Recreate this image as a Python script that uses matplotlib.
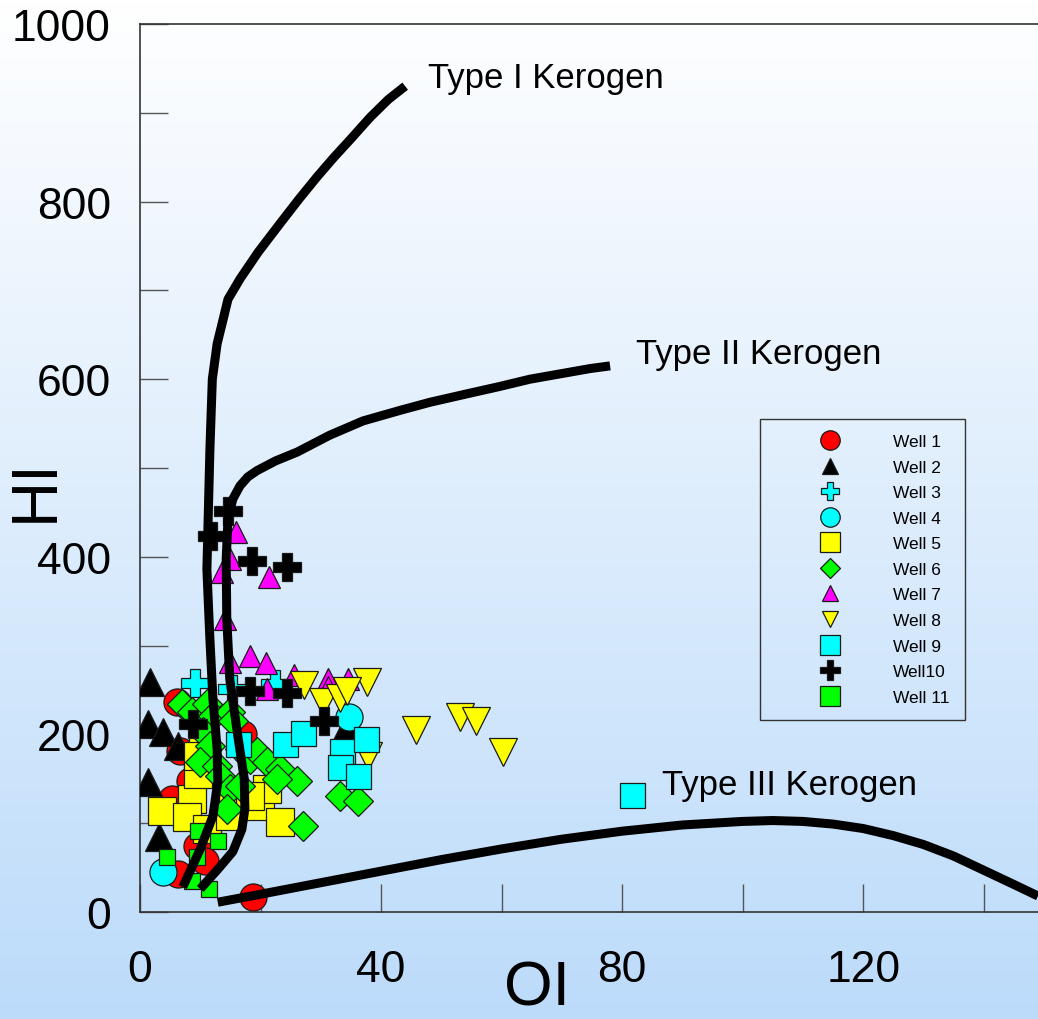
import numpy as np
import matplotlib
matplotlib.use('Agg')
import matplotlib.pyplot as plt
from matplotlib.lines import Line2D

plt.rcParams['font.family'] = ['Liberation Sans', 'DejaVu Sans']

# kerogen evolution curves (OI, HI)
type1_oi = [7.1, 10.0, 12.1, 12.9, 12.8, 12.1, 11.6, 11.1, 11.6, 12.0, 12.8, 13.6, 14.6, 16.6, 19.6,
            23.2, 26.4, 29.4, 32.2, 34.9, 38.2, 41.2, 44.0]
type1_hi = [28, 71, 108, 146, 183, 240, 307, 386, 521, 600, 640, 662, 690, 713, 743,
            775, 803, 828, 850, 870, 895, 915, 930]
type2_oi = [10.0, 12.9, 15.4, 16.9, 17.4, 17.3, 16.3, 14.9, 14.4, 14.3, 14.6, 15.4, 16.6, 17.9, 19.4,
            22.5, 26.1, 31.5, 37.0, 43.2, 48.1, 53.9, 59.8, 64.7, 69.7, 74.7, 78.0]
type2_hi = [26, 48, 68, 93, 116, 150, 195, 262, 330, 397, 443, 465, 480, 490, 497,
            508, 518, 537, 553, 565, 574, 583, 592, 600, 606, 612, 615]
type3_oi = [12.9, 20, 30, 40, 50, 60, 70, 80, 90, 100, 105, 110, 115, 120, 125, 130, 135, 140, 145, 149]
type3_hi = [11, 20, 33, 46, 59, 71, 82, 91, 98, 102, 103, 102, 99, 94, 86, 76, 63, 47, 31, 18]

curve_labels = ['Type I Kerogen', 'Type II Kerogen', 'Type III Kerogen']
curve_label_oi = [47.8, 82.3, 86.6]
curve_label_hi = [940, 629, 144]

# samples per well
well1_oi = [6.1, 6.6, 8.3, 5.3, 9.5, 10.8, 6.3, 18.8, 17.1]
well1_hi = [236, 181, 148, 127, 74, 57, 43, 17, 200]
well2_oi = [1.7, 1.3, 3.8, 6.3, 1.3, 3.2, 34.4]
well2_hi = [259, 212, 203, 187, 146, 84, 209]
well3_oi = [9.1, 15.3, 22.4]
well3_hi = [258, 251, 257]
well4_oi = [3.8, 34.7]
well4_hi = [45, 220]
well5_oi = [3.7, 8.6, 7.8, 10.5, 11.1, 14.9, 15.4, 19.9, 21.1, 23.2, 9.6, 18.3, 9.6]
well5_hi = [114, 127, 107, 184, 93, 108, 131, 119, 139, 101, 155, 131, 176]
well6_oi = [7.0, 8.6, 11.1, 12.1, 14.9, 15.4, 10.5, 11.6, 10.0, 12.8, 16.6, 18.3, 19.4, 21.1,
            23.2, 26.1, 13.3, 14.9, 16.6, 14.4, 27.1, 33.2, 36.2, 22.7]
well6_hi = [234, 225, 234, 221, 225, 215, 203, 187, 169, 164, 184, 172, 180, 169,
            161, 148, 153, 139, 142, 116, 97, 131, 125, 150]
well7_oi = [15.9, 14.9, 13.6, 21.4, 14.1, 18.3, 20.9, 14.9, 25.6, 31.2, 31.2, 34.5, 21.1]
well7_hi = [428, 398, 383, 377, 330, 288, 280, 282, 267, 262, 253, 262, 251]
well8_oi = [27.2, 37.7, 30.4, 33.2, 34.4, 37.8, 45.8, 53.1, 55.8, 60.2]
well8_hi = [256, 259, 236, 241, 249, 176, 205, 220, 215, 180]
well9_oi = [16.3, 24.1, 27.1, 33.5, 33.2, 36.2, 37.5, 81.7]
well9_hi = [189, 189, 202, 181, 163, 153, 195, 132]
well10_oi = [14.6, 12.0, 18.6, 24.4, 8.8, 18.3, 24.4, 30.5]
well10_hi = [452, 423, 395, 388, 212, 249, 247, 215]
well11_oi = [9.6, 12.9, 4.5, 9.5, 8.6, 11.5]
well11_hi = [91, 80, 62, 62, 35, 26]

well_names = ['Well 1', 'Well 2', 'Well 3', 'Well 4', 'Well 5', 'Well 6',
              'Well 7', 'Well 8', 'Well 9', 'Well10', 'Well 11']
well_oi = [well1_oi, well2_oi, well3_oi, well4_oi, well5_oi, well6_oi,
           well7_oi, well8_oi, well9_oi, well10_oi, well11_oi]
well_hi = [well1_hi, well2_hi, well3_hi, well4_hi, well5_hi, well6_hi,
           well7_hi, well8_hi, well9_hi, well10_hi, well11_hi]
markers = ['o', '^', 'P', 'o', 's', 'D', '^', 'v', 's', 'P', 's']
colors = ['#ff0000', '#000000', '#00ffff', '#00ffff', '#ffff00', '#00ff00',
          '#ff00ff', '#ffff00', '#00ffff', '#000000', '#00ff00']
sizes = [19.5, 20, 20, 19.5, 20, 15.5, 16.5, 20, 18, 20, 11.5]
leg_sizes = [14, 12, 13, 14, 14, 10, 12, 12, 14, 14, 14]

fig = plt.figure(figsize=(10.38, 10.20), dpi=100)

# background gradient, white at the top to light blue at the bottom
bg = fig.add_axes([0, 0, 1, 1], zorder=-1)
top = np.array([1.0, 1.0, 1.0])
bot = np.array([188, 219, 250]) / 255
t = np.linspace(0, 1, 256)[:, None]
grad = (top * (1 - t) + bot * t)[:, None, :]
bg.imshow(grad, aspect='auto', extent=[0, 1, 0, 1])
bg.axis('off')

ax = fig.add_axes([140 / 1038, 107 / 1020, 898 / 1038, 888 / 1020])
ax.set_facecolor('none')

for oi, hi, m, c, s in zip(well_oi, well_hi, markers, colors, sizes):
    ax.plot(oi, hi, ls='none', marker=m, ms=s, mfc=c, mec='#1a1a1a', mew=0.9, zorder=3)

for oi, hi in [(type1_oi, type1_hi), (type2_oi, type2_hi), (type3_oi, type3_hi)]:
    ax.plot(oi, hi, color='black', lw=6.5, solid_capstyle='butt', solid_joinstyle='round', zorder=4)

for lab, x, y in zip(curve_labels, curve_label_oi, curve_label_hi):
    ax.text(x, y, lab, fontsize=25, ha='left', va='center')

ax.set_xlim(0, 149)
ax.set_ylim(0, 1000)
ax.set_xticks([0, 40, 80, 120])
ax.set_xticks([20, 60, 100, 140], minor=True)
ax.set_yticks([0, 200, 400, 600, 800, 1000])
ax.set_yticks([100, 300, 500, 700, 900], minor=True)
ax.tick_params(which='both', direction='in', length=20, width=1, color='#555555')
ax.tick_params(axis='x', which='major', labelsize=32, pad=27)
ax.tick_params(axis='y', which='major', labelsize=32, pad=21)
for sp in ['left', 'top', 'bottom']:
    ax.spines[sp].set_color('#333333')
    ax.spines[sp].set_linewidth(1.2)
ax.spines['right'].set_visible(False)

ax.set_xlabel('OI', fontsize=45, va='center')
ax.set_ylabel('HI', fontsize=46, va='center')
ax.xaxis.set_label_coords(0.442, -0.086)
ax.yaxis.set_label_coords(-0.116, 0.476)

handles = [Line2D([], [], ls='none', marker=m, ms=s, mfc=c, mec='#1a1a1a', mew=0.9)
           for m, c, s in zip(markers, colors, leg_sizes)]
leg = ax.legend(handles, well_names, loc='upper left', bbox_to_anchor=(0.690, 0.555),
                borderaxespad=0, fontsize=12.5, handlelength=6.4, handletextpad=0.45,
                labelspacing=0.60, borderpad=0.85, fancybox=False, framealpha=1,
                edgecolor='#333333', numpoints=1)
leg.get_frame().set_facecolor('none')
leg.get_frame().set_linewidth(1.0)
leg.set_zorder(5)

fig.savefig('out.png', dpi=100)
